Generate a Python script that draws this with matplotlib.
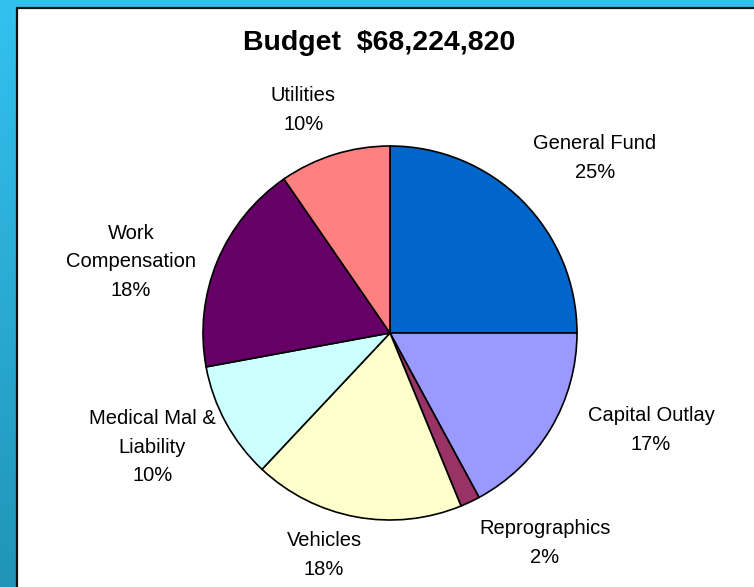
import numpy as np
import matplotlib
matplotlib.use("Agg")
import matplotlib.pyplot as plt
from matplotlib.patches import Rectangle

plt.rcParams['font.family'] = ['Liberation Sans', 'DejaVu Sans']

# budget shares (percent), clockwise from 12 o'clock
categories = ["General Fund", "Capital Outlay", "Reprographics", "Vehicles",
              "Medical Mal &\nLiability", "Work\nCompensation", "Utilities"]
shares = [25.0, 17.1, 1.7, 18.2, 10.1, 18.3, 9.6]
colors = ["#0066CC", "#9999FF", "#993366", "#FFFFCC",
          "#CCFFFF", "#660066", "#FF8080"]
title = "Budget  $68,224,820"

# label centres, in pie-radius units from the centre
label_pos = [(1.096, 0.936), (1.396, -0.519), (0.829, -1.123), (-0.353, -1.187),
             (-1.270, -0.610), (-1.385, 0.380), (-0.463, 1.193)]

W, H = 754, 587
fig = plt.figure(figsize=(W / 100, H / 100), dpi=100)

# blue gradient backdrop with white panel
bg = fig.add_axes([0, 0, 1, 1])
grad = np.linspace(0, 1, 256)[:, None]
top = np.array([0.20, 0.76, 0.94])
bot = np.array([0.13, 0.58, 0.72])
img = top[None, None, :] * (1 - grad[..., None]) + bot[None, None, :] * grad[..., None]
bg.imshow(img, aspect='auto', extent=[0, W, H, 0])
bg.add_patch(Rectangle((17, 8), W + 20, H + 20, facecolor='white',
                       edgecolor='#111111', linewidth=1.6))
bg.set_xlim(0, W)
bg.set_ylim(H, 0)
bg.axis('off')

# pie: centre (390, 333) px, radius 187 px
cx, cy, r = 390, 333, 187
ax = fig.add_axes([(cx - r) / W, (H - cy - r) / H, 2 * r / W, 2 * r / H])
ax.pie(shares, colors=colors, startangle=90, counterclock=False,
       wedgeprops=dict(edgecolor='black', linewidth=1.2))
ax.set_xlim(-1, 1)
ax.set_ylim(-1, 1)
ax.set_aspect('equal')
ax.axis('off')

for name, v, (lx, ly) in zip(categories, shares, label_pos):
    ax.text(lx, ly, f"{name}\n{round(v)}%", ha='center', va='center',
            fontsize=14.5, linespacing=1.62, color='black')

fig.text(379.5 / W, 1 - 50 / H, title, ha='center', va='baseline',
         fontsize=20.5, fontweight='bold')

fig.savefig("out.png", dpi=100)
